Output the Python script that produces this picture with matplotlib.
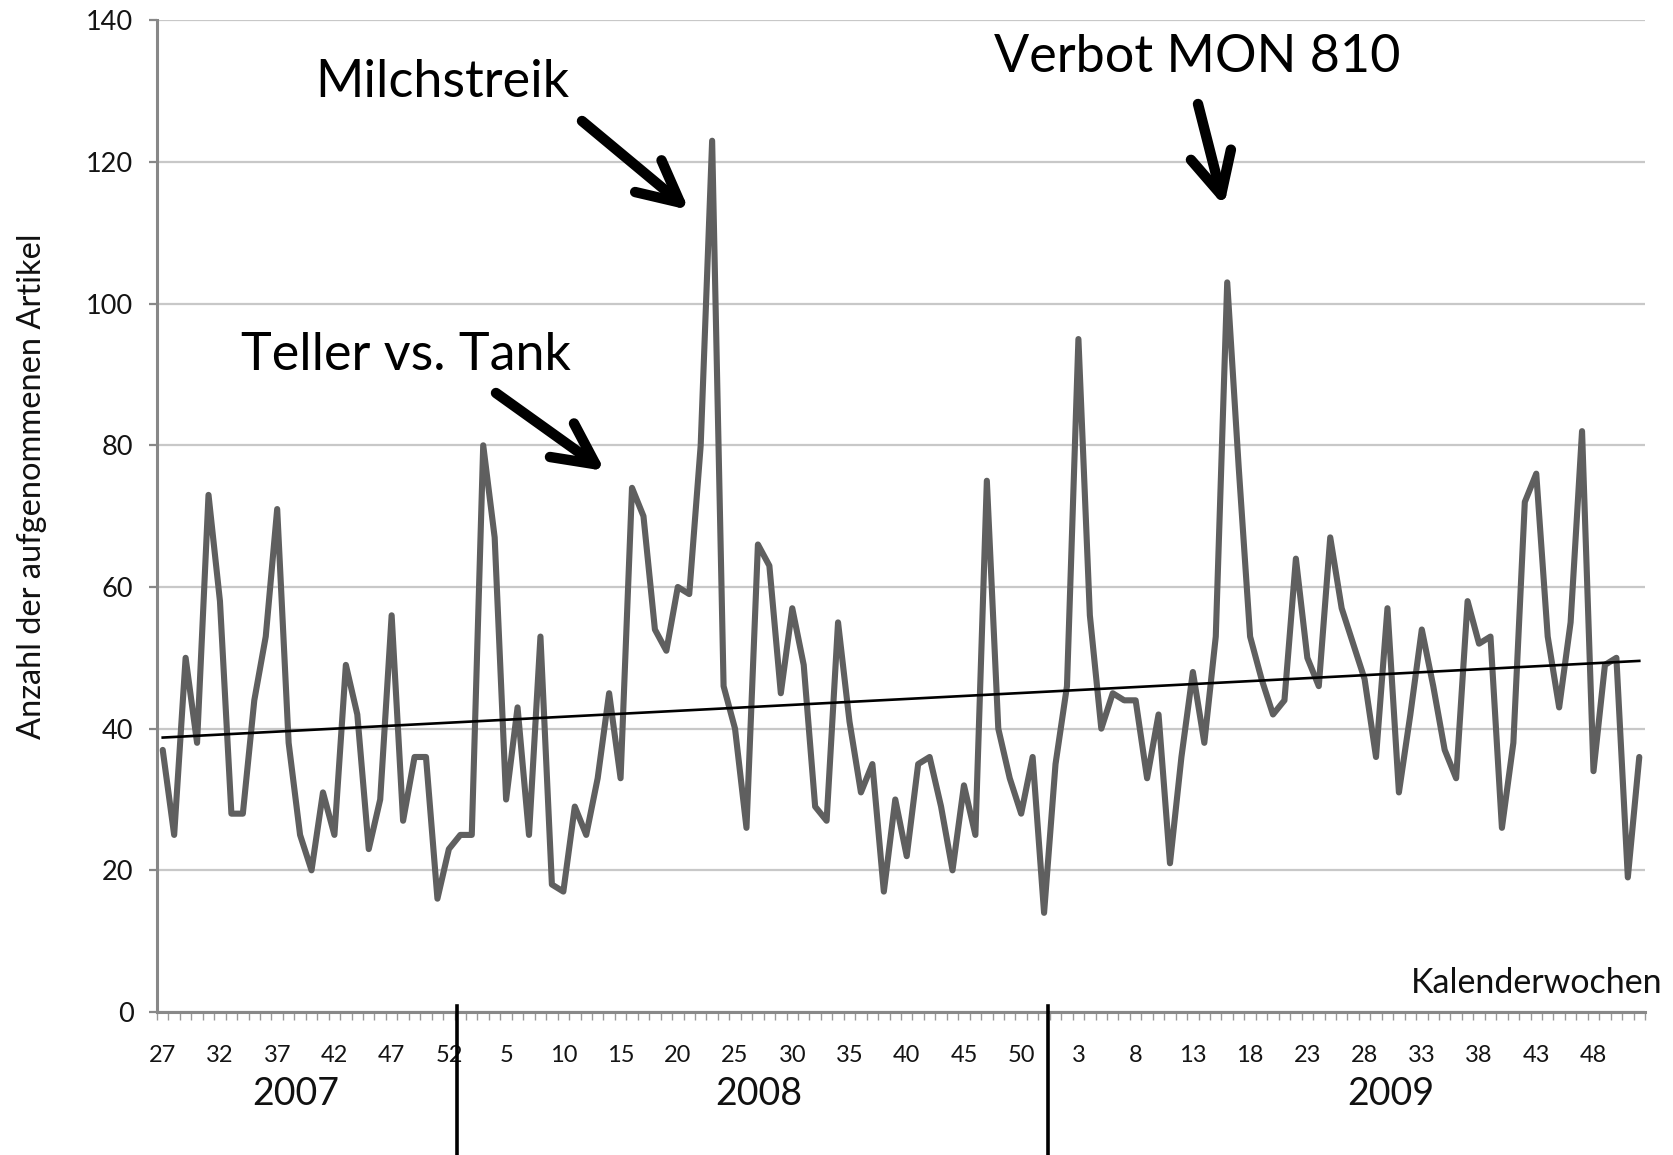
import numpy as np
import matplotlib
matplotlib.use("Agg")
import matplotlib.pyplot as plt
import matplotlib.transforms as mtransforms

plt.rcParams['font.family'] = ['Lato', 'DejaVu Sans']

# ---- data -------------------------------------------------------------
weeks_2007 = list(range(27, 53))
weeks_2008 = list(range(1, 53))
weeks_2009 = list(range(1, 53))

values_2007 = [37, 25, 50, 38, 73, 58, 28, 28, 44, 53, 71, 38, 25, 20, 31, 25,
               49, 42, 23, 30, 56, 27, 36, 36, 16, 23]
values_2008 = [25, 25, 80, 67, 30, 43, 25, 53, 18, 17, 29, 25, 33, 45, 33, 74,
               70, 54, 51, 60, 59, 80, 123, 46, 40, 26, 66, 63, 45, 57, 49, 29,
               27, 55, 41, 31, 35, 17, 30, 22, 35, 36, 29, 20, 32, 25, 75, 40,
               33, 28, 36, 14]
values_2009 = [35, 46, 95, 56, 40, 45, 44, 44, 33, 42, 21, 36, 48, 38, 53, 103,
               77, 53, 47, 42, 44, 64, 50, 46, 67, 57, 52, 47, 36, 57, 31, 42,
               54, 46, 37, 33, 58, 52, 53, 26, 38, 72, 76, 53, 43, 55, 82, 34,
               49, 50, 19, 36]

years = ["2007", "2008", "2009"]
y_ticks = [0, 20, 40, 60, 80, 100, 120, 140]

annotations = ["Milchstreik", "Teller vs. Tank", "Verbot MON 810"]

# ---- derived ------------------------------------------------------------
weeks = weeks_2007 + weeks_2008 + weeks_2009
values = np.array(values_2007 + values_2008 + values_2009, dtype=float)
x = np.arange(len(values))

W, H = 1674, 1155
fig = plt.figure(figsize=(W / 100, H / 100), dpi=100)

ax_left, ax_right = 157, 1645
ax_top, ax_bottom = 20.3, 1012
ax = fig.add_axes([ax_left / W, 1 - ax_bottom / H,
                   (ax_right - ax_left) / W, (ax_bottom - ax_top) / H])

ax.set_xlim(-0.5, len(values) - 0.5)
ax.set_ylim(0, 140)

# grid
ax.set_yticks(y_ticks)
ax.yaxis.grid(True, color='#c8c8c8', lw=1.6)
ax.set_axisbelow(True)

# series
ax.plot(x, values, color='#5f5f5f', lw=4.4, solid_joinstyle='round',
        solid_capstyle='round', zorder=3)

# linear trend
coef = np.polyfit(x, values, 1)
ax.plot(x, np.polyval(coef, x), color='black', lw=1.9, zorder=4)

# spines
for s in ['top', 'right']:
    ax.spines[s].set_visible(False)
for s in ['left', 'bottom']:
    ax.spines[s].set_color('#888888')
    ax.spines[s].set_linewidth(2.2)

# y ticks
ax.tick_params(axis='y', length=6, width=1.6, color='#888888', pad=11,
               labelsize=19.5, labelcolor='#141414')

# x ticks: labels every 5th category, minor ticks at every boundary
lab_idx = x[::5]
ax.set_xticks(lab_idx)
ax.set_xticklabels([str(weeks[i]) for i in lab_idx])
ax.tick_params(axis='x', which='major', length=0, pad=24, labelsize=17,
               labelcolor='#141414')
ax.set_xticks(np.arange(-0.5, len(values), 1.0), minor=True)
ax.tick_params(axis='x', which='minor', length=6, width=1.0, color='#999999')

# year labels and separators
trans = mtransforms.blended_transform_factory(ax.transData, ax.transAxes)
year_x = [11.6, 52.1, 107.3]
for yx, yr in zip(year_x, years):
    ax.text(yx, -0.083, yr, transform=trans, ha='center', va='center',
            fontsize=27, color='#111111')
for sx in [25.75, 77.3]:
    ax.plot([sx, sx], [0.006, -0.145], transform=trans, color='black',
            lw=2.6, clip_on=False, zorder=5)

# axis texts
fig.text(1663 / W, 1 - 983 / H, "Kalenderwochen", ha='right', va='center',
         fontsize=24.5, color='#111111')
fig.text(32 / W, 1 - 486 / H, "Anzahl der aufgenommenen Artikel",
         rotation=90, ha='center', va='center', fontsize=23.5, color='#111111')

# annotations
text_pos = [(442, 97), (406, 370), (1197, 72)]
for (tx, ty), t in zip(text_pos, annotations):
    fig.text(tx / W, 1 - ty / H, t, ha='center', va='baseline',
             fontsize=37.5, color='black')

arrows = [((582, 121), (689, 210)),
          ((496, 393), (605, 471)),
          ((1198, 104), (1224, 206))]
for (t0, t1), (h0, h1) in arrows:
    ax.annotate('', xy=(h0, H - h1), xytext=(t0, H - t1),
                xycoords='figure pixels', textcoords='figure pixels',
                arrowprops=dict(arrowstyle='->,head_length=0.9,head_width=0.45',
                                lw=7.5, color='black', mutation_scale=33,
                                shrinkA=0, shrinkB=0,
                                capstyle='round', joinstyle='round'),
                annotation_clip=False)

fig.savefig('out.png', dpi=100)
